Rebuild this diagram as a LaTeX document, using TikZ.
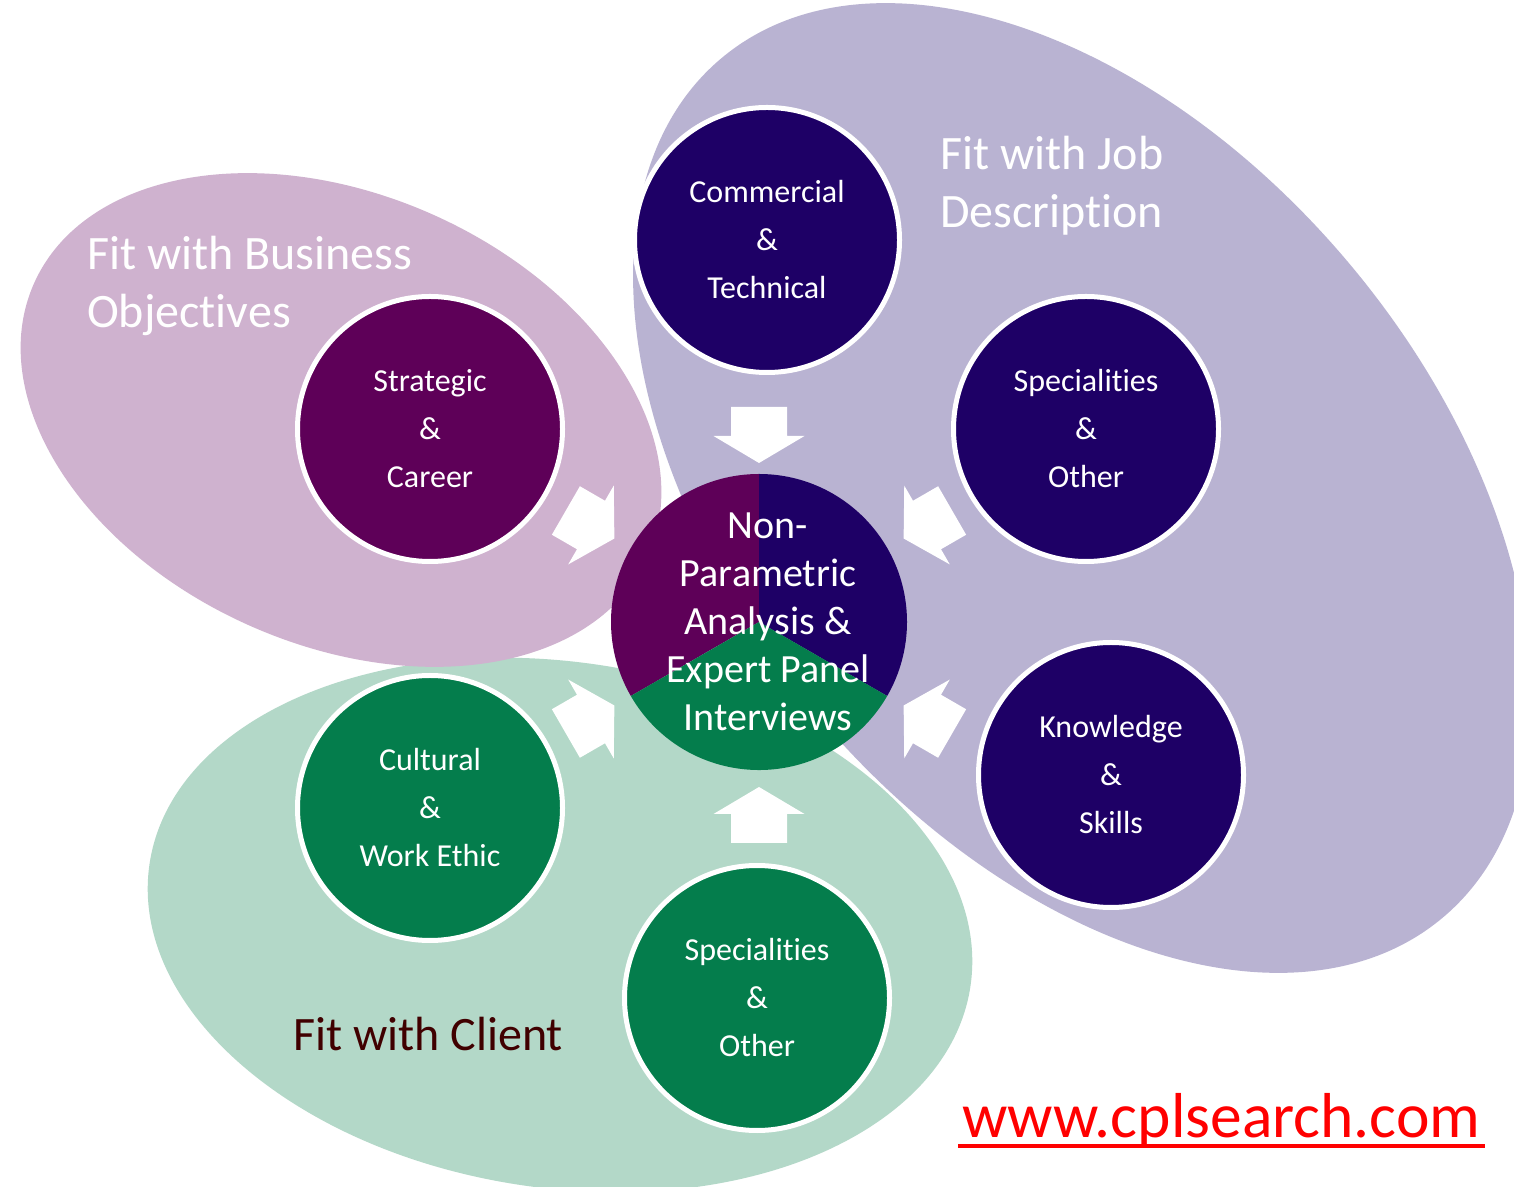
\documentclass[tikz,border=0pt]{standalone}
\usepackage{fontspec}
\setmainfont{Carlito}[Ligatures=NoCommon]
\definecolor{pinklt}{RGB}{207,178,207}
\definecolor{purpdk}{RGB}{94,0,88}
\definecolor{lavlt}{RGB}{185,179,210}
\definecolor{indigo}{RGB}{30,0,102}
\definecolor{greenlt}{RGB}{179,216,200}
\definecolor{greendk}{RGB}{4,125,76}
\definecolor{maroon}{RGB}{64,0,0}
\tikzset{
  bubble/.style={circle,draw=white,line width=5,minimum size=265,inner sep=0,text=white,align=center,font=\fontsize{32}{48}\selectfont},
  heading/.style={text=white,align=left,inner sep=0,anchor=base west,font=\fontsize{48}{58}\selectfont},
  inarrow/.pic={\fill[white] (-28,-28)--(1,-28)--(1,-45.5)--(28,0)--(1,45.5)--(1,28)--(-28,28)--cycle;}
}
\begin{document}
\begin{tikzpicture}[x=1pt,y=1pt]
\useasboundingbox (0,0) rectangle (1514,1186);
\clip (0,0) rectangle (1514,1186);
\fill[white] (0,0) rectangle (1514,1186);
% the three fit areas
\fill[greenlt,rotate around={-8.5:(560,261)}] (560,261) ellipse[x radius=415,y radius=263];
\fill[lavlt,rotate around={-50:(1082,698)}] (1082,698) ellipse[x radius=561,y radius=349];
\fill[pinklt,rotate around={-24:(341,766)}] (341,766) ellipse[x radius=336,y radius=225];
% base anchor sits on the last line
\node[heading] (bizlbl) at (87,858) {Fit with Business\\Objectives};
\node[heading] (joblbl) at (940,958) {Fit with Job\\Description};
\node[heading,text=maroon] (clientlbl) at (293,136) {Fit with Client};
% centre disc in three sectors
\node[circle,minimum size=296,inner sep=0] (core) at (759,564) {};
\fill[purpdk] (core.center) -- ++(90:148) arc[start angle=90,end angle=210,radius=148] -- cycle;
\fill[indigo] (core.center) -- ++(90:148) arc[start angle=90,end angle=-30,radius=148] -- cycle;
\fill[greendk] (core.center) -- ++(210:148) arc[start angle=210,end angle=330,radius=148] -- cycle;
\node[text=white,align=center,inner sep=0,font=\fontsize{40}{48}\selectfont] (corelbl) at ([xshift=9]core.center) {Non-\\Parametric\\Analysis \&\\Expert Panel\\Interviews};
% outer bubbles
\foreach \n/\x/\y/\c/\t in {comm/767/946/indigo/{Commercial\\\&\\Technical},specj/1086/757/indigo/{Specialities\\\&\\Other},know/1111/411/indigo/{Knowledge\\\&\\Skills},strat/430/757/purpdk/{Strategic\\\&\\Career},cult/430/378/greendk/{Cultural\\\&\\Work Ethic},specc/757/188/greendk/{Specialities\\\&\\Other}}{\node[bubble,fill=\c] (\n) at (\x,\y) {\t};}
% arrows into the centre
\foreach \a/\r in {90/187,30/195,-30/195,-90/193,210/195,150/195}{\path (core.center) ++(\a:\r) pic[rotate=\a+180] {inarrow};}
\node[text=red,inner sep=0,anchor=base west,font=\fontsize{63.5}{70}\selectfont] (url) at (962,49) {www.cplsearch.com};
\draw[red,line width=3.5] ([shift={(-4,-9)}]url.base west) -- ([shift={(4,-9)}]url.base east);
\end{tikzpicture}
\end{document}
